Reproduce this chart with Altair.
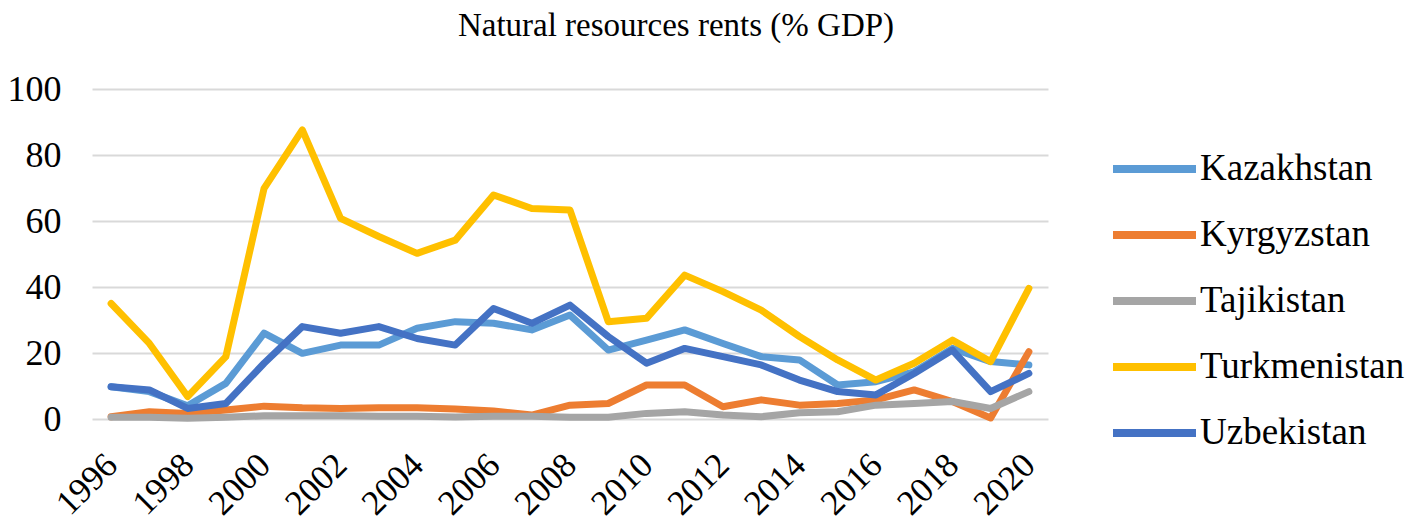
import altair as alt
import pandas as pd

years = list(range(1996, 2021))
countries = ["Kazakhstan", "Kyrgyzstan", "Tajikistan", "Turkmenistan", "Uzbekistan"]
colors = ["#5B9BD5", "#ED7D31", "#A5A5A5", "#FFC000", "#4472C4"]

kazakhstan = [9.8, 8.3, 4.0, 10.8, 26.0, 19.9, 22.4, 22.4, 27.5, 29.5, 29.0, 27.0, 31.5,
              20.9, 23.9, 27.0, 22.9, 18.9, 17.9, 10.3, 11.3, 14.3, 21.4, 17.4, 16.4]
kyrgyzstan = [0.7, 2.2, 1.7, 2.7, 3.9, 3.4, 3.2, 3.4, 3.4, 3.0, 2.4, 1.2, 4.2,
              4.7, 10.3, 10.3, 3.7, 5.8, 4.2, 4.7, 5.8, 8.8, 5.3, 0.3, 20.4]
tajikistan = [0.5, 0.5, 0.2, 0.5, 1.0, 1.0, 1.0, 0.8, 0.8, 0.6, 0.8, 0.8, 0.5,
              0.5, 1.7, 2.2, 1.2, 0.7, 1.9, 2.2, 4.2, 4.7, 5.3, 3.2, 8.3]
turkmenistan = [35.0, 22.9, 6.8, 18.9, 69.9, 87.6, 60.8, 55.3, 50.2, 54.2, 67.9, 63.8, 63.3,
                29.5, 30.5, 43.6, 38.6, 33.0, 25.0, 17.9, 11.8, 16.9, 23.9, 17.4, 39.6]
uzbekistan = [9.8, 8.8, 3.2, 4.7, 16.9, 28.0, 26.0, 28.0, 24.4, 22.4, 33.5, 29.0, 34.5,
              25.0, 16.9, 21.4, 18.9, 16.4, 11.8, 8.3, 7.3, 13.8, 20.9, 8.3, 13.8]

x_ticks = list(range(1996, 2021, 2))
y_ticks = [0, 20, 40, 60, 80, 100]

series = [kazakhstan, kyrgyzstan, tajikistan, turkmenistan, uzbekistan]
rows = []
for c, vals in zip(countries, series):
    for y, v in zip(years, vals):
        rows.append({"Year": y, "Country": c, "Value": v})
df = pd.DataFrame(rows)

FONT = "Liberation Serif"

chart = alt.Chart(df).mark_line(strokeWidth=7, strokeCap="round", strokeJoin="round").encode(
    x=alt.X("Year:Q",
            scale=alt.Scale(domain=[1995.5, 2020.5], nice=False, zero=False),
            axis=alt.Axis(values=x_ticks, format="d", labelAngle=-45, labelAlign="right",
                          labelBaseline="middle", labelPadding=40, labelFontSize=35,
                          labelFont=FONT, labelColor="black", grid=False, domain=False,
                          ticks=False, title=None, labelOverlap=False, labelFlush=False)),
    y=alt.Y("Value:Q",
            scale=alt.Scale(domain=[0, 100], nice=False),
            axis=alt.Axis(values=y_ticks, labelFontSize=36, labelFont=FONT, labelColor="black",
                          labelPadding=31, grid=True, gridColor="#D9D9D9", gridWidth=2,
                          domain=False, ticks=False, title=None)),
    color=alt.Color("Country:N",
                    scale=alt.Scale(domain=countries, range=colors),
                    legend=alt.Legend(title=None, orient="none", legendX=1017, legendY=47,
                                      symbolType="stroke", symbolSize=6889, symbolStrokeWidth=8,
                                      labelFontSize=37, labelFont=FONT, labelColor="black",
                                      labelOffset=0, labelLimit=0, rowPadding=0, clipHeight=66,
                                      padding=0)),
).properties(
    width=956,
    height=330,
    title=alt.TitleParams("Natural resources rents (% GDP)", font=FONT, fontSize=33,
                          fontWeight="normal", color="black", anchor="middle", dx=106, offset=28),
    autosize=alt.AutoSizeParams(type="none"),
    padding={"left": 84, "top": 81, "right": 361, "bottom": 104},
).configure_view(stroke=None)

chart.save("out.html", embed_options={"renderer": "svg", "actions": False})
